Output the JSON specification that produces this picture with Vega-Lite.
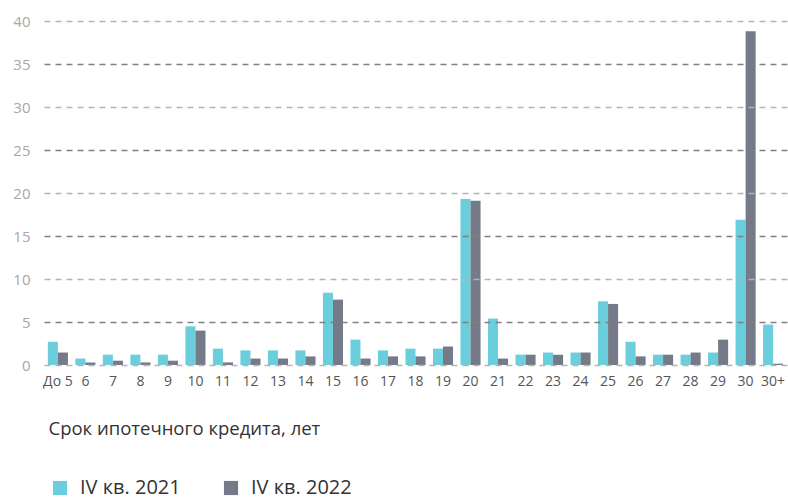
{
  "$schema": "https://vega.github.io/schema/vega-lite/v6.json",
  "width": 743,
  "height": 344,
  "autosize": {"type": "none"},
  "padding": {"left": 44, "top": 21, "right": 1, "bottom": 137},
  "background": "white",
  "config": {
    "view": {"stroke": null},
    "font": "Open Sans"
  },
  "data": {
    "values": [
      {"term": "До 5", "series": "IV кв. 2021", "value": 2.7},
      {"term": "До 5", "series": "IV кв. 2022", "value": 1.45},
      {"term": "6", "series": "IV кв. 2021", "value": 0.75},
      {"term": "6", "series": "IV кв. 2022", "value": 0.3},
      {"term": "7", "series": "IV кв. 2021", "value": 1.2},
      {"term": "7", "series": "IV кв. 2022", "value": 0.5},
      {"term": "8", "series": "IV кв. 2021", "value": 1.2},
      {"term": "8", "series": "IV кв. 2022", "value": 0.3},
      {"term": "9", "series": "IV кв. 2021", "value": 1.2},
      {"term": "9", "series": "IV кв. 2022", "value": 0.5},
      {"term": "10", "series": "IV кв. 2021", "value": 4.5},
      {"term": "10", "series": "IV кв. 2022", "value": 4.0},
      {"term": "11", "series": "IV кв. 2021", "value": 1.9},
      {"term": "11", "series": "IV кв. 2022", "value": 0.3},
      {"term": "12", "series": "IV кв. 2021", "value": 1.7},
      {"term": "12", "series": "IV кв. 2022", "value": 0.75},
      {"term": "13", "series": "IV кв. 2021", "value": 1.7},
      {"term": "13", "series": "IV кв. 2022", "value": 0.75},
      {"term": "14", "series": "IV кв. 2021", "value": 1.7},
      {"term": "14", "series": "IV кв. 2022", "value": 1.0},
      {"term": "15", "series": "IV кв. 2021", "value": 8.4},
      {"term": "15", "series": "IV кв. 2022", "value": 7.6},
      {"term": "16", "series": "IV кв. 2021", "value": 2.95},
      {"term": "16", "series": "IV кв. 2022", "value": 0.75},
      {"term": "17", "series": "IV кв. 2021", "value": 1.7},
      {"term": "17", "series": "IV кв. 2022", "value": 1.0},
      {"term": "18", "series": "IV кв. 2021", "value": 1.9},
      {"term": "18", "series": "IV кв. 2022", "value": 1.0},
      {"term": "19", "series": "IV кв. 2021", "value": 1.9},
      {"term": "19", "series": "IV кв. 2022", "value": 2.15},
      {"term": "20", "series": "IV кв. 2021", "value": 19.3},
      {"term": "20", "series": "IV кв. 2022", "value": 19.1},
      {"term": "21", "series": "IV кв. 2021", "value": 5.4},
      {"term": "21", "series": "IV кв. 2022", "value": 0.75},
      {"term": "22", "series": "IV кв. 2021", "value": 1.2},
      {"term": "22", "series": "IV кв. 2022", "value": 1.2},
      {"term": "23", "series": "IV кв. 2021", "value": 1.45},
      {"term": "23", "series": "IV кв. 2022", "value": 1.2},
      {"term": "24", "series": "IV кв. 2021", "value": 1.45},
      {"term": "24", "series": "IV кв. 2022", "value": 1.45},
      {"term": "25", "series": "IV кв. 2021", "value": 7.4},
      {"term": "25", "series": "IV кв. 2022", "value": 7.1},
      {"term": "26", "series": "IV кв. 2021", "value": 2.7},
      {"term": "26", "series": "IV кв. 2022", "value": 1.0},
      {"term": "27", "series": "IV кв. 2021", "value": 1.2},
      {"term": "27", "series": "IV кв. 2022", "value": 1.2},
      {"term": "28", "series": "IV кв. 2021", "value": 1.2},
      {"term": "28", "series": "IV кв. 2022", "value": 1.45},
      {"term": "29", "series": "IV кв. 2021", "value": 1.45},
      {"term": "29", "series": "IV кв. 2022", "value": 2.95},
      {"term": "30", "series": "IV кв. 2021", "value": 16.9},
      {"term": "30", "series": "IV кв. 2022", "value": 38.8},
      {"term": "30+", "series": "IV кв. 2021", "value": 4.7},
      {"term": "30+", "series": "IV кв. 2022", "value": 0.15}
    ]
  },
  "mark": {"type": "bar"},
  "encoding": {
    "x": {
      "field": "term",
      "type": "nominal",
      "sort": null,
      "scale": {"paddingInner": 0.27, "paddingOuter": 0.14},
      "axis": {
        "title": "Срок ипотечного кредита, лет",
        "titleFont": "Open Sans",
        "titleFontSize": 18.5,
        "titleFontWeight": "normal",
        "titleColor": "#333333",
        "titleAnchor": "start",
        "titleAlign": "left",
        "titleBaseline": "middle",
        "titleX": 4,
        "titleY": 63,
        "labelAngle": 0,
        "labelFontSize": 14,
        "labelColor": "#555555",
        "labelPadding": 9,
        "domain": false,
        "ticks": false,
        "grid": false
      }
    },
    "xOffset": {"field": "series", "type": "nominal"},
    "y": {
      "field": "value",
      "type": "quantitative",
      "scale": {"domain": [0, 40], "nice": false},
      "axis": {
        "title": null,
        "values": [0, 5, 10, 15, 20, 25, 30, 35, 40],
        "labelFontSize": 15,
        "labelColor": "#a8a8a8",
        "labelPadding": 14,
        "domain": false,
        "ticks": false,
        "grid": true,
        "gridDash": [6, 5],
        "gridWidth": 1.5,
        "gridColor": {"condition": {"test": "datum.value % 10 === 5", "value": "#808080"}, "value": "#b5b5b5"},
        "zindex": 1
      }
    },
    "color": {
      "field": "series",
      "type": "nominal",
      "scale": {"domain": ["IV кв. 2021", "IV кв. 2022"], "range": ["#6ACEDD", "#747A87"]},
      "legend": {
        "title": null,
        "orient": "none",
        "direction": "horizontal",
        "legendX": 6,
        "legendY": 457,
        "symbolType": "square",
        "symbolSize": 200,
        "symbolStrokeWidth": 0,
        "labelFontSize": 20,
        "labelColor": "#333333",
        "labelOffset": 10,
        "columnPadding": 40
      }
    }
  }
}
